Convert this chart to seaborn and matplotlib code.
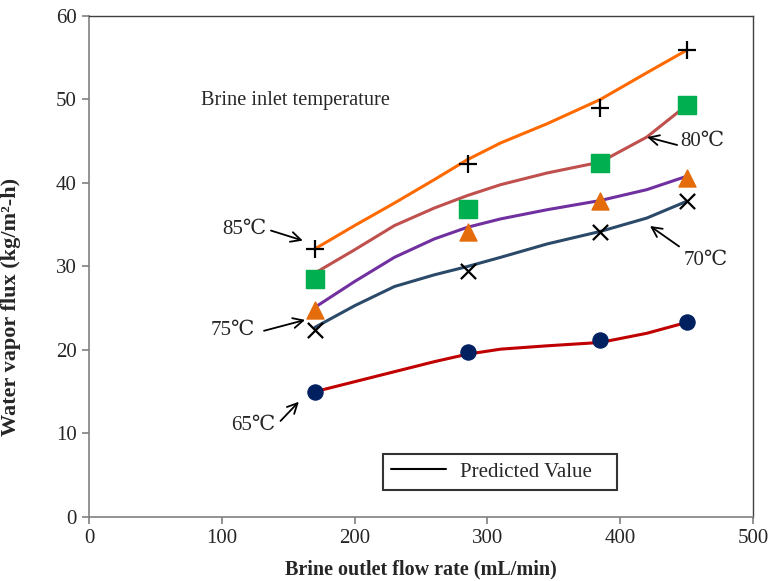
import matplotlib
matplotlib.use("Agg")
import matplotlib.pyplot as plt
from matplotlib.lines import Line2D
import pandas as pd
import seaborn as sns

# Measured flux at each brine outlet flow rate (markers)
flow_rate = [170, 285, 385, 450]
meas_65 = [15.0, 19.8, 21.2, 23.3]
meas_70 = [22.4, 29.4, 34.1, 37.9]
meas_75 = [24.8, 34.1, 37.9, 40.6]
meas_80 = [28.5, 36.9, 42.4, 49.3]
meas_85 = [32.1, 42.3, 49.0, 55.9]

# Predicted flux curves (lines)
pred_x = [170, 200, 230, 260, 285, 310, 345, 385, 420, 450]
pred_65 = [15.0, 16.2, 17.4, 18.6, 19.5, 20.1, 20.5, 20.9, 22.0, 23.3]
pred_70 = [22.7, 25.3, 27.6, 29.0, 30.0, 31.1, 32.7, 34.2, 35.8, 37.8]
pred_75 = [25.1, 28.2, 31.1, 33.3, 34.7, 35.7, 36.8, 37.9, 39.2, 40.8]
pred_80 = [29.2, 32.0, 34.9, 37.0, 38.5, 39.8, 41.2, 42.5, 45.5, 49.3]
pred_85 = [32.1, 34.9, 37.6, 40.4, 42.8, 44.8, 47.1, 50.0, 53.2, 55.9]

temps = ["65", "70", "75", "80", "85"]
line_colors = {"65": "#C00000", "70": "#2B4A6A", "75": "#7030A0",
               "80": "#C0504D", "85": "#FF6A00"}

sns.set_style("ticks")
plt.rcParams["font.family"] = ["Liberation Serif", "DejaVu Serif", "DejaVu Sans"]

pred = pd.DataFrame({
    "flow": pred_x * 5,
    "flux": pred_65 + pred_70 + pred_75 + pred_80 + pred_85,
    "temp": [t for t in temps for _ in pred_x],
})
meas = {"65": meas_65, "70": meas_70, "75": meas_75, "80": meas_80, "85": meas_85}

fig = plt.figure(figsize=(7.7, 5.81), dpi=100)
ax = fig.add_axes([0.1156, 0.1102, 0.8624, 0.8623])

sns.lineplot(data=pred, x="flow", y="flux", hue="temp", palette=line_colors,
             linewidth=2.2, legend=False, ax=ax, zorder=2)

marker_style = {
    "65": dict(marker="o", s=120, color="#002060", edgecolor="#002060"),
    "70": dict(marker="x", s=120, color="black", linewidth=1.6),
    "75": dict(marker="^", s=150, color="#E46C0A", edgecolor="#E46C0A"),
    "80": dict(marker="s", s=165, color="#00B050", edgecolor="#00B050"),
    "85": dict(marker="+", s=150, color="black", linewidth=1.6),
}
for t in temps:
    sns.scatterplot(x=flow_rate, y=meas[t], ax=ax, zorder=3, legend=False,
                    **marker_style[t])

ax.set_xlim(0, 500)
ax.set_ylim(0, 60)
ax.set_xticks(range(0, 501, 100))
ax.set_yticks(range(0, 61, 10))
ax.tick_params(axis="both", labelsize=15, direction="out", length=5,
               width=1.2, color="#808080", pad=4)
for side in ["left", "bottom"]:
    ax.spines[side].set_color("#808080")
    ax.spines[side].set_linewidth(1.2)
for side in ["top", "right"]:
    ax.spines[side].set_visible(True)
    ax.spines[side].set_color("#404040")
    ax.spines[side].set_linewidth(1.0)
ax.tick_params(top=False, right=False)

ax.set_xlabel("Brine outlet flow rate (mL/min)", fontsize=14.5,
              fontweight="bold", labelpad=8)
ax.set_ylabel("Water vapor flux (kg/m²-h)", fontsize=16,
              fontweight="bold")
ax.yaxis.set_label_coords(-0.103, 0.42)

ax.text(84, 49.9, "Brine inlet temperature", fontsize=14.7, va="center",
        ha="left")

arrow = dict(arrowstyle="->", color="black", lw=1.3, mutation_scale=18,
             shrinkA=0, shrinkB=0)
arrows = [
    ((161, 33.1), (137, 34.3)),   # 85
    ((162.7, 23.6), (131.8, 22.3)),  # 75
    ((158, 13.8), (144.2, 11.5)),  # 65
    ((422.4, 34.85), (444.3, 32.4)),  # 70
    ((420.2, 45.5), (442.8, 44.55)),  # 80
]
for tip, tail in arrows:
    ax.annotate("", xy=tip, xytext=tail, arrowprops=arrow)

labels = [("85℃", 100.5, 34.4), ("75℃", 91.9, 22.3), ("65℃", 106.9, 11.0),
          ("70℃", 448, 30.7), ("80℃", 445, 45.0)]
for txt, tx, ty in labels:
    ax.text(tx, ty, txt, fontsize=15, va="center", ha="left")

handle = Line2D([0], [0], color="black", lw=1.5)
leg = ax.legend([handle], ["Predicted Value"], loc="lower left",
                bbox_to_anchor=(0.4428, 0.054, 0.352, 0.074), mode="expand",
                borderaxespad=0, frameon=True, fancybox=False, fontsize=15,
                handlelength=2.6, borderpad=0.4, handletextpad=0.7)
leg.get_frame().set_edgecolor("black")
leg.get_frame().set_linewidth(1.5)

fig.savefig("out.png", dpi=100)
